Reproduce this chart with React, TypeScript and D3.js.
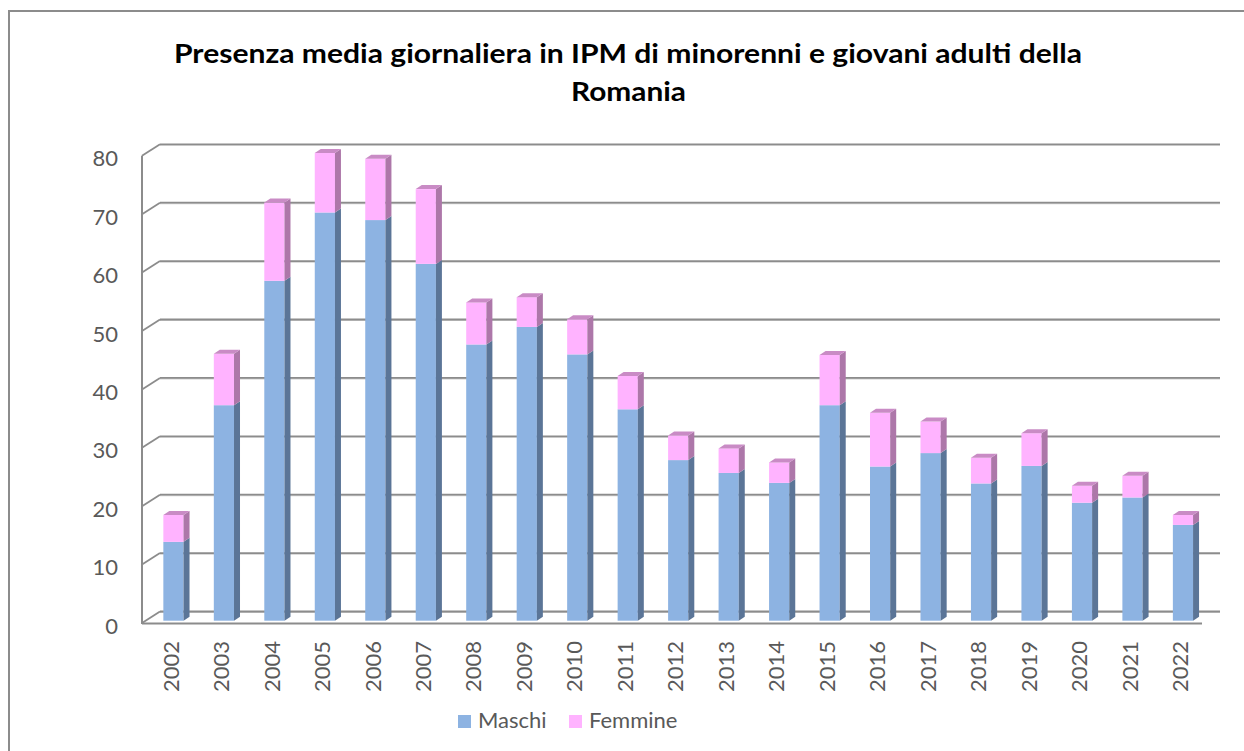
import React from "react";
import * as d3 from "d3";

const years = ["2002","2003","2004","2005","2006","2007","2008","2009","2010","2011","2012","2013","2014","2015","2016","2017","2018","2019","2020","2021","2022"];
const maschi = [13.5, 36.9, 58.2, 69.9, 68.6, 61.1, 47.3, 50.3, 45.6, 36.2, 27.5, 25.3, 23.6, 36.9, 26.4, 28.7, 23.5, 26.5, 20.2, 21.1, 16.4];
const femmine = [4.6, 8.8, 13.4, 10.2, 10.5, 12.8, 7.2, 5.1, 6.0, 5.7, 4.2, 4.2, 3.5, 8.6, 9.2, 5.4, 4.4, 5.6, 2.9, 3.7, 1.7];
const yTicks = [0, 10, 20, 30, 40, 50, 60, 70, 80];
const seriesNames = ["Maschi", "Femmine"];
const titleLines = ["Presenza media giornaliera in IPM di minorenni e giovani adulti della", "Romania"];

const W = 1244, H = 751;
const FONT = "Lato, 'Open Sans', sans-serif";

// 3D geometry
const frontX0 = 142, frontX1 = 1202, frontY0 = 623;
const depthDX = 18, depthDY = -11.5;
const barDX = 6, barDY = -4;

const colors = {
  mFront: "#8DB3E2", mSide: "#5B7597", mTop: "#A9C4E8",
  fFront: "#FFB3FF", fSide: "#AD77A9", fTop: "#C98BC5",
};

export default function App() {
  const x = d3.scaleBand<string>().domain(years).range([frontX0 + 6.2, frontX1 + 6.2]).paddingInner(0.6).paddingOuter(0.3);
  const yFront = d3.scaleLinear().domain([0, 80]).range([frontY0, frontY0 - 80 * 5.84]);
  const yBar = d3.scaleLinear().domain([0, 80]).range([620.7, 620.7 - 80 * 5.84]);
  const bw = x.bandwidth();

  const stacked = years.map((yr, i) => ({ yr, m: maschi[i], f: femmine[i] }));

  const seg = (x0: number, y0: number, y1: number, front: string, side: string, top: string | null, key: string) => {
    const sidePts = [[x0 + bw, y0], [x0 + bw + barDX, y0 + barDY], [x0 + bw + barDX, y1 + barDY], [x0 + bw, y1]];
    const topPts = [[x0, y1], [x0 + barDX, y1 + barDY], [x0 + bw + barDX, y1 + barDY], [x0 + bw, y1]];
    return (
      <g key={key}>
        <rect x={x0} y={y1} width={bw} height={y0 - y1} fill={front} />
        <polygon points={sidePts.map(p => p.join(",")).join(" ")} fill={side} />
        {top && <polygon points={topPts.map(p => p.join(",")).join(" ")} fill={top} />}
      </g>
    );
  };

  const gridColor = "#8c8c8c";

  return (
    <svg width={W} height={H} style={{ position: "absolute", left: 0, top: 0, background: "#fff" }} fontFamily={FONT}>
      <rect x={0} y={0} width={W} height={H} fill="#fff" />
      {/* frame */}
      <rect x={9} y={11} width={W + 20} height={H + 20} fill="none" stroke="#8c8c8c" strokeWidth={2} />

      {/* title */}
      <text x={174} y={63} fontSize={27} fontWeight="bold" fill="#000" textLength={908} lengthAdjust="spacingAndGlyphs">{titleLines[0]}</text>
      <text x={571} y={101} fontSize={27} fontWeight="bold" fill="#000" textLength={115} lengthAdjust="spacingAndGlyphs">{titleLines[1]}</text>

      {/* back wall gridlines and left wall diagonals */}
      {yTicks.map(t => {
        const yf = yFront(t);
        return (
          <g key={"g" + t}>
            <line x1={frontX0 + depthDX} x2={1220} y1={yf + depthDY + 0.8} y2={yf + depthDY + 0.8} stroke="#d0d0d0" strokeWidth={1.5} />
            <line x1={frontX0 + depthDX} x2={1220} y1={yf + depthDY} y2={yf + depthDY} stroke={gridColor} strokeWidth={1.8} />
            <line x1={frontX0} x2={frontX0 + depthDX} y1={yf} y2={yf + depthDY} stroke={gridColor} strokeWidth={1.8} />
          </g>
        );
      })}
      {/* left front axis */}
      <line x1={frontX0} x2={frontX0} y1={yFront(80)} y2={frontY0 + 1} stroke={gridColor} strokeWidth={2} />
      {/* front floor line */}
      <line x1={frontX0} x2={frontX1} y1={frontY0 + 0.5} y2={frontY0 + 0.5} stroke={gridColor} strokeWidth={2} />

      {/* bars */}
      {stacked.map(d => {
        const x0 = x(d.yr)!;
        const yb = yBar(0), ym = yBar(d.m), yt = yBar(d.m + d.f);
        return (
          <g key={d.yr}>
            {seg(x0, yb, ym, colors.mFront, colors.mSide, null, "m")}
            {seg(x0, ym, yt, colors.fFront, colors.fSide, colors.fTop, "f")}
          </g>
        );
      })}

      {/* y labels */}
      {yTicks.map(t => (
        <text key={"yl" + t} x={118} y={yFront(t) + 2} textAnchor="end" dominantBaseline="central" fontSize={22} fill="#595959">{t}</text>
      ))}

      {/* x labels */}
      {years.map(yr => {
        const cx = x(yr)! + bw / 2 - 3.3;
        return (
          <text key={"xl" + yr} transform={`translate(${cx},641) rotate(-90)`} textAnchor="end" dominantBaseline="central" fontSize={22} fill="#595959">{yr}</text>
        );
      })}

      {/* legend */}
      <rect x={458} y={715} width={13} height={13} fill={colors.mFront} />
      <text x={478} y={728} fontSize={22} fill="#595959">{seriesNames[0]}</text>
      <rect x={569} y={715} width={13} height={13} fill={colors.fFront} />
      <text x={589} y={728} fontSize={22} fill="#595959">{seriesNames[1]}</text>
    </svg>
  );
}
